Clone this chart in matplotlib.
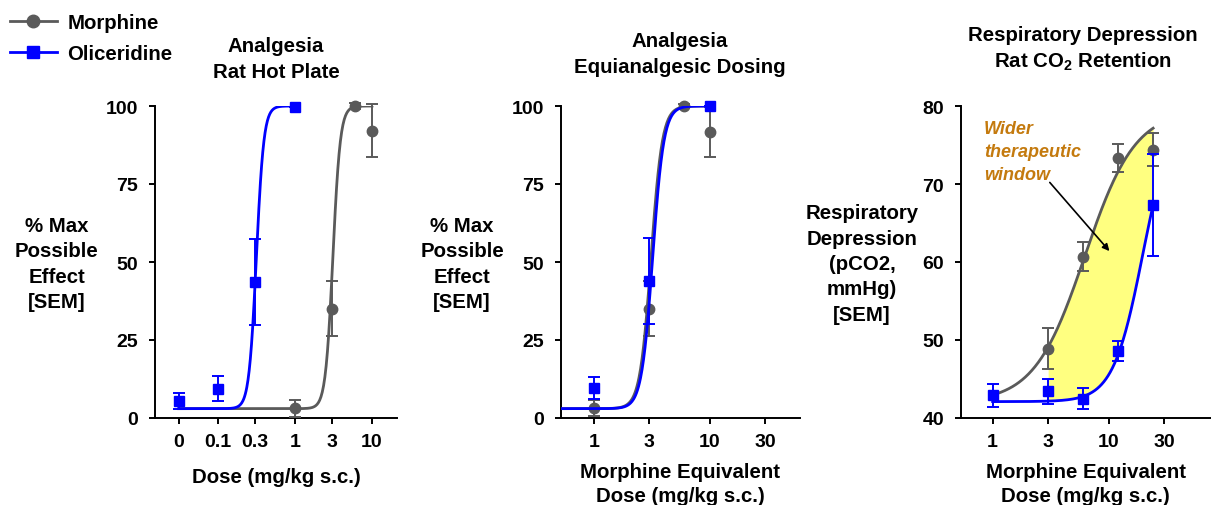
import numpy as np
import matplotlib.pyplot as plt
from matplotlib.lines import Line2D
from matplotlib.ticker import NullLocator

plt.rcParams['font.family'] = 'Liberation Sans'
plt.rcParams['font.weight'] = 'bold'
plt.rcParams['axes.labelweight'] = 'bold'
plt.rcParams['font.size'] = 14.7
plt.rcParams['mathtext.fontset'] = 'custom'
plt.rcParams['mathtext.rm'] = 'Liberation Sans:bold'
plt.rcParams['mathtext.it'] = 'Liberation Sans:bold:italic'
plt.rcParams['mathtext.bf'] = 'Liberation Sans:bold'
plt.rcParams['axes.linewidth'] = 1.4

# --- panel 1: analgesia, rat hot plate (dose mg/kg) ---
hp_oli_dose = [0.031, 0.1, 0.3, 1]
hp_oli_mpe = [5.5, 9.4, 43.6, 99.8]
hp_oli_sem = [2.5, 4.0, 13.8, 0.0]
hp_mor_dose = [1, 3, 6, 10]
hp_mor_mpe = [3.1, 35.0, 100.0, 92.0]
hp_mor_sem = [2.8, 8.8, 1.0, 8.5]
hp_ticks = [0.031, 0.1, 0.3, 1, 3, 10]
hp_ticklabels = ['0', '0.1', '0.3', '1', '3', '10']

# --- panel 2: equianalgesic dosing (morphine equivalent) ---
eq_mor_dose = [1, 3, 6, 10]
eq_mor_mpe = [3.2, 35.0, 100.0, 91.7]
eq_mor_sem = [2.5, 8.8, 0.5, 8.0]
eq_oli_dose = [1, 3, 10]
eq_oli_mpe = [9.6, 44.0, 100.0]
eq_oli_sem = [3.5, 13.8, 0.0]

# --- panel 3: respiratory depression, pCO2 ---
rd_mor_dose = [3, 6, 12, 24]
rd_mor_pco2 = [48.9, 60.7, 73.3, 74.4]
rd_mor_sem = [2.6, 1.9, 1.8, 2.1]
rd_oli_dose = [1, 3, 6, 12, 24]
rd_oli_pco2 = [42.9, 43.4, 42.5, 48.6, 67.3]
rd_oli_sem = [1.5, 1.6, 1.3, 1.25, 6.5]

eq_ticks = [1, 3, 10, 30]
eq_ticklabels = ['1', '3', '10', '30']

# fitted curves: bottom, top, EC50, hill slope, x range
hp_mor_fit = (3, 100, 3.1, 9, 0.031, 10)
hp_oli_fit = (3, 100, 0.315, 9, 0.031, 1)
eq_mor_fit = (3, 100, 3.1, 9, 0.512, 10)
eq_oli_fit = (3, 100, 3.2, 9, 0.512, 10)
rd_mor_fit = (42, 79.5, 6.2, 2.0, 1, 24)
rd_oli_fit = (42.1, 80, 19.6, 3.4, 1, 24)
window_range = (3, 24)

GRAY = '#5a5a5a'
BLUE = '#0000ff'


def hill(x, bottom, top, ec50, n):
    return bottom + (top - bottom) / (1 + (ec50 / x) ** n)


def fit_curve(fit):
    b, t, ec50, n, x0, x1 = fit
    xs = np.logspace(np.log10(x0), np.log10(x1), 300)
    return xs, hill(xs, b, t, ec50, n)


def style_axis(ax, xlim, ylim, xticks, xlabels, yticks):
    ax.set_xscale('log')
    ax.set_xlim(*xlim)
    ax.set_ylim(*ylim)
    ax.set_xticks(xticks, xlabels)
    ax.xaxis.set_minor_locator(NullLocator())
    ax.set_yticks(yticks)
    ax.spines['top'].set_visible(False)
    ax.spines['right'].set_visible(False)
    ax.tick_params(axis='both', length=4, width=1.4, labelsize=14)
    ax.tick_params(axis='x', pad=7)
    ax.tick_params(axis='y', pad=8)


def points(ax, x, y, err, color, marker, z):
    ax.errorbar(x, y, yerr=err, fmt=marker, color=color, ms=7.5, capsize=4.5,
                elinewidth=1.4, capthick=1.4, clip_on=False, zorder=z)


fig = plt.figure(figsize=(12.11, 5.06), dpi=100)
H = 312 / 506
B = 87 / 506
ax1 = fig.add_axes([155 / 1211, B, 242 / 1211, H])
ax2 = fig.add_axes([560.7 / 1211, B, 239.3 / 1211, H])
ax3 = fig.add_axes([960.7 / 1211, B, 250.3 / 1211, H])

# panel 1
x, y = fit_curve(hp_mor_fit)
ax1.plot(x, y, color=GRAY, lw=2, zorder=3)
x, y = fit_curve(hp_oli_fit)
ax1.plot(x, y, color=BLUE, lw=2, zorder=4)
points(ax1, hp_mor_dose, hp_mor_mpe, hp_mor_sem, GRAY, 'o', 5)
points(ax1, hp_oli_dose, hp_oli_mpe, hp_oli_sem, BLUE, 's', 6)
style_axis(ax1, (0.0152, 21.1), (0, 100), hp_ticks, hp_ticklabels, [0, 25, 50, 75, 100])

# panel 2
x, y = fit_curve(eq_mor_fit)
ax2.plot(x, y, color=GRAY, lw=2, zorder=3)
points(ax2, eq_mor_dose, eq_mor_mpe, eq_mor_sem, GRAY, 'o', 4)
x, y = fit_curve(eq_oli_fit)
ax2.plot(x, y, color=BLUE, lw=2, zorder=5)
points(ax2, eq_oli_dose, eq_oli_mpe, eq_oli_sem, BLUE, 's', 6)
style_axis(ax2, (0.512, 60.2), (0, 100), eq_ticks, eq_ticklabels, [0, 25, 50, 75, 100])

# panel 3
xs = np.logspace(np.log10(window_range[0]), np.log10(window_range[1]), 300)
ax3.fill_between(xs, hill(xs, *rd_oli_fit[:4]), hill(xs, *rd_mor_fit[:4]),
                 color='#ffff80', lw=0, zorder=1)
x, y = fit_curve(rd_mor_fit)
ax3.plot(x, y, color=GRAY, lw=2, zorder=3)
x, y = fit_curve(rd_oli_fit)
ax3.plot(x, y, color=BLUE, lw=2, zorder=4)
points(ax3, rd_mor_dose, rd_mor_pco2, rd_mor_sem, GRAY, 'o', 5)
points(ax3, rd_oli_dose, rd_oli_pco2, rd_oli_sem, BLUE, 's', 6)
style_axis(ax3, (0.531, 75.5), (40, 80), eq_ticks, eq_ticklabels, [40, 50, 60, 70, 80])

ax3.text(0.093, 0.955, 'Wider\ntherapeutic\nwindow', transform=ax3.transAxes,
         ha='left', va='top', color='#c47a0e', fontsize=13, style='italic',
         linespacing=1.45)
ax3.annotate('', xy=(10.1, 61.4), xytext=(3.1, 70.2),
             arrowprops=dict(arrowstyle='-|>', color='black', lw=1.2,
                             mutation_scale=10, shrinkA=0, shrinkB=0))

# axis labels
ylab_mpe = '% Max\nPossible\nEffect\n[SEM]'
for ax, lab, lx in [(ax1, ylab_mpe, -0.405), (ax2, ylab_mpe, -0.412),
                    (ax3, 'Respiratory\nDepression\n(pCO2,\nmmHg)\n[SEM]', -0.394)]:
    ax.set_ylabel(lab, rotation=0, ha='center', va='center', ma='center',
                  linespacing=1.42)
    ax.yaxis.set_label_coords(lx, 0.495)

ax1.set_xlabel('Dose (mg/kg s.c.)', va='center')
ax1.xaxis.set_label_coords(0.5, -0.188)
for ax in (ax2, ax3):
    ax.set_xlabel('Morphine Equivalent\nDose (mg/kg s.c.)', va='center',
                  linespacing=1.36)
    ax.xaxis.set_label_coords(0.5, -0.21)

# titles
fig.text(276 / 1211, 1 - 59.5 / 506, 'Analgesia\nRat Hot Plate', ha='center',
         va='center', ma='center', linespacing=1.42)
fig.text(680 / 1211, 1 - 54.5 / 506, 'Analgesia\nEquianalgesic Dosing', ha='center',
         va='center', ma='center', linespacing=1.42)
fig.text(1083 / 1211, 1 - 49.5 / 506, 'Respiratory Depression\nRat CO$_2$ Retention',
         ha='center', va='center', ma='center', linespacing=1.3)

# legend
handles = [Line2D([], [], color=GRAY, marker='o', ms=9, lw=2),
           Line2D([], [], color=BLUE, marker='s', ms=9, lw=2)]
fig.legend(handles, ['Morphine', 'Oliceridine'], loc='upper left',
           bbox_to_anchor=(10 / 1211, 1 - 14 / 506), frameon=False,
           handlelength=2.3, handletextpad=0.5, labelspacing=0.6,
           borderpad=0, borderaxespad=0)

fig.savefig('out.png', dpi=100)
